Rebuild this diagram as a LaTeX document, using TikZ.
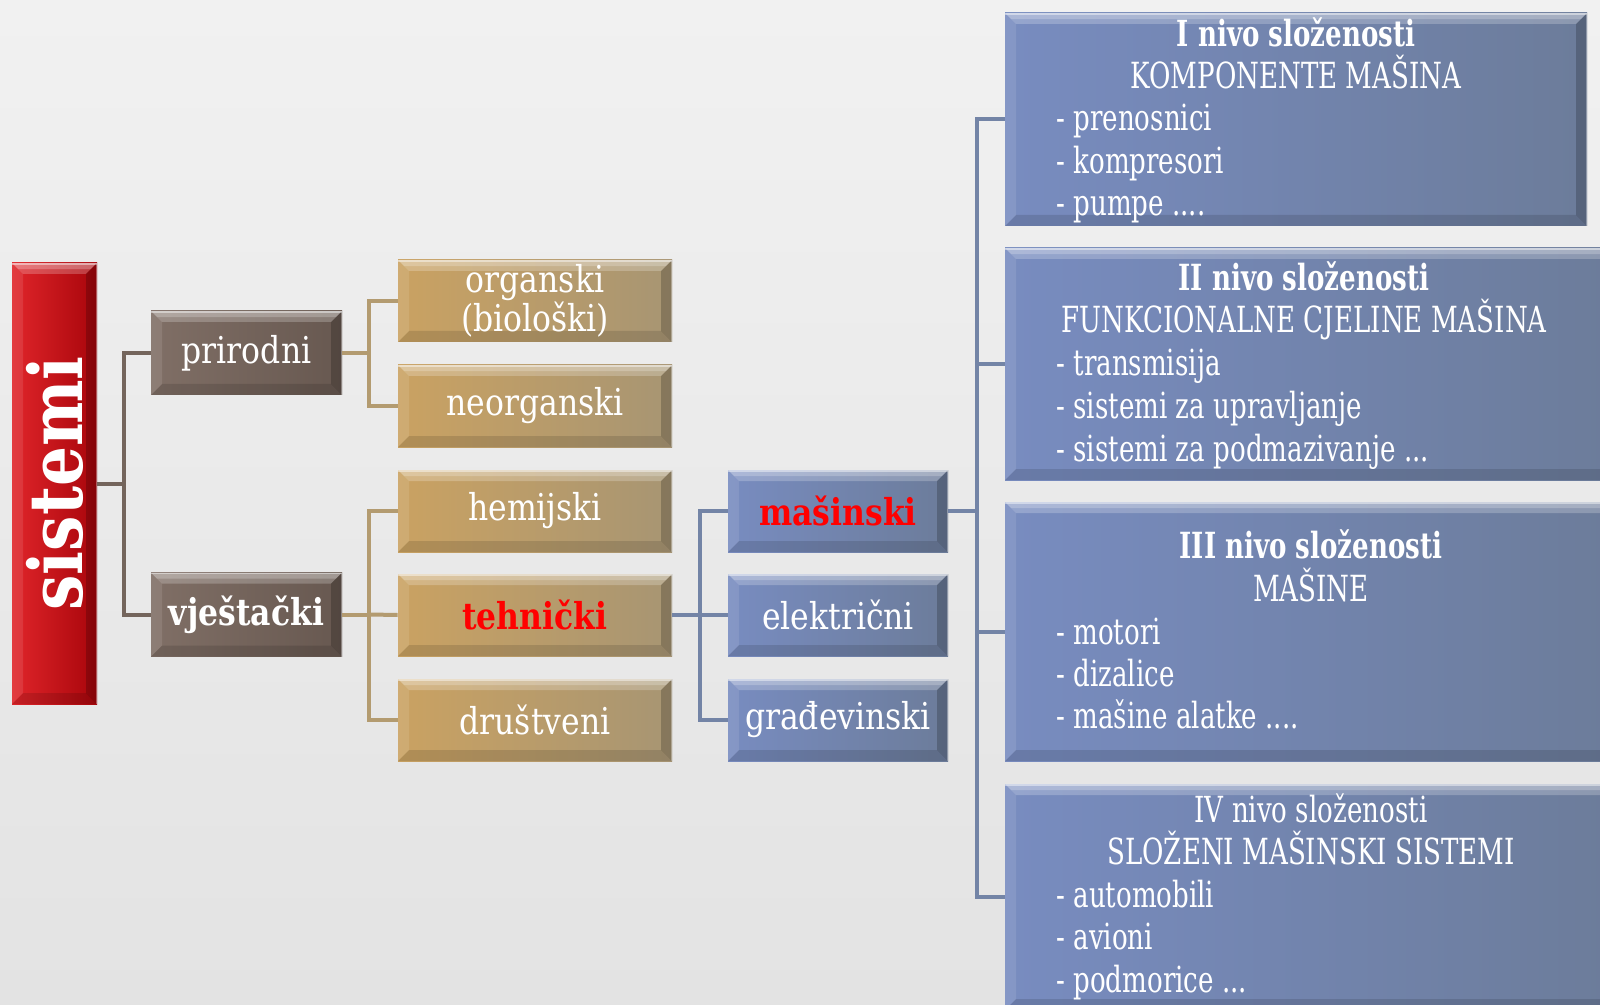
\documentclass[tikz,border=0pt]{standalone}
\usepackage{fontspec}
\setmainfont{DejaVu Serif}[FakeStretch=0.85]
\newfontfamily\narrowserif{DejaVu Serif}[FakeStretch=0.725]
\usetikzlibrary{calc}

\definecolor{bgtop}{HTML}{F1F1F1}
\definecolor{bgbot}{HTML}{E3E3E3}
\definecolor{redL}{HTML}{E0252A}
\definecolor{redR}{HTML}{A8050B}
\definecolor{brownL}{HTML}{806F66}
\definecolor{brownR}{HTML}{675850}
\definecolor{tanL}{HTML}{CAA262}
\definecolor{tanR}{HTML}{A79573}
\definecolor{blueL}{HTML}{788CC0}
\definecolor{blueR}{HTML}{6C7C9A}
\definecolor{brownline}{HTML}{74655C}
\definecolor{tanline}{HTML}{B39B70}
\definecolor{blueline}{HTML}{7384A6}
\definecolor{hot}{HTML}{FF0000}

\newcommand{\bvw}{5.5pt}

\tikzset{
  bevel/.style={path picture={
    \path (path picture bounding box.north west) coordinate (pNW)
          (path picture bounding box.south east) coordinate (pSE);
    % upper face: light
    \fill[white,opacity=0.22] (pNW) -- (pNW -| pSE) -- ($(pNW -| pSE)+(-\bvw,-\bvw)$)
         -- ($(pNW)+(\bvw,-\bvw)$) -- cycle;
    \fill[white,opacity=0.22] (pNW) -- (pNW -| pSE) -- ($(pNW -| pSE)+(-0.55*\bvw,-0.55*\bvw)$)
         -- ($(pNW)+(0.55*\bvw,-0.55*\bvw)$) -- cycle;
    \draw[white,opacity=0.45,line width=0.8pt] ($(pNW)+(0,-0.4pt)$) -- ($(pNW -| pSE)+(0,-0.4pt)$);
    % left face: slightly light
    \fill[white,opacity=0.10] (pNW) -- ($(pNW)+(\bvw,-\bvw)$) -- ($(pNW |- pSE)+(\bvw,\bvw)$)
         -- (pNW |- pSE) -- cycle;
    % right face: dark
    \fill[black,opacity=0.20] (pNW -| pSE) -- (pSE) -- ($(pSE)+(-\bvw,\bvw)$)
         -- ($(pNW -| pSE)+(-\bvw,-\bvw)$) -- cycle;
    \draw[white,opacity=0.35,line width=0.6pt] ($(pNW -| pSE)+(-0.3pt,0)$) -- ($(pSE)+(-0.3pt,0)$);
    % lower face: dark
    \fill[black,opacity=0.12] (pNW |- pSE) -- (pSE) -- ($(pSE)+(-\bvw,\bvw)$)
         -- ($(pNW |- pSE)+(\bvw,\bvw)$) -- cycle;
  }},
  boxbase/.style={bevel, inner sep=0pt, text=white, align=center,
    font=\fontsize{18.5}{19.5}\selectfont},
  redbar/.style={boxbase, left color=redL, right color=redR},
  brownbox/.style={boxbase, left color=brownL, right color=brownR,
    minimum width=95.5pt, minimum height=42pt},
  tanbox/.style={boxbase, left color=tanL, right color=tanR,
    minimum width=137pt, minimum height=41pt},
  bluebox/.style={boxbase, left color=blueL, right color=blueR,
    minimum width=110pt, minimum height=41pt},
  levelbox/.style={bevel, inner sep=0pt, left color=blueL, right color=blueR},
  headline/.style={text=white, inner sep=0pt, anchor=mid,
    font=\narrowserif\fontsize{18}{20}\selectfont},
  itemline/.style={text=white, inner sep=0pt, anchor=mid west,
    font=\narrowserif\fontsize{18}{20}\selectfont},
  link/.style={line width=2pt},
  hl/.style={text=hot, font=\bfseries\fontsize{18.5}{19.5}\selectfont},
}

\begin{document}
\begin{tikzpicture}[x=0.5pt,y=-0.5pt]
  \useasboundingbox (0,0) rectangle (1600,1005);
  \clip (0,0) rectangle (1600,1005);
  \shade[top color=bgtop, bottom color=bgbot] (0,0) rectangle (1600,1005);

  % root
  \node[redbar, minimum width=42.5pt, minimum height=220.5pt] (sis) at (54.5,483.5)
    {\rotatebox{90}{\bfseries\fontsize{37}{40}\selectfont sistemi}};

  % first level
  \node[brownbox] (pri) at (246.5,353) {prirodni};
  \node[brownbox, font=\bfseries\fontsize{18.5}{19.5}\selectfont] (vje) at (246.5,614.5) {vještački};

  % second level
  \node[tanbox] (org) at (535,301) {organski\\(biološki)};
  \node[tanbox] (neo) at (535,406) {neorganski};
  \node[tanbox] (hem) at (535,511) {hemijski};
  \node[tanbox, hl] (teh) at (535,615) {tehnički};
  \node[tanbox] (dru) at (535,720) {društveni};

  % third level
  \node[bluebox, hl] (mas) at (838,511) {mašinski};
  \node[bluebox] (ele) at (838,615) {električni};
  \node[bluebox] (gra) at (838,720) {građevinski};

  % complexity levels
  \node[levelbox, minimum width=291pt, minimum height=106.5pt] (lv1) at (1296,119.5) {};
  \node[levelbox, minimum width=305pt, minimum height=116pt] (lv2) at (1310,364) {};
  \node[levelbox, minimum width=305pt, minimum height=129.5pt] (lv3) at (1310,631.5) {};
  \node[levelbox, minimum width=305pt, minimum height=113pt] (lv4) at (1310,897) {};

  % connectors
  \draw[link, brownline] (sis.east) -- ++(27,0) coordinate (j1) |- (pri.west);
  \draw[link, brownline] (j1) |- (vje.west);
  \draw[link, tanline] (pri.east) -- ++(27,0) coordinate (j2) |- (org.west);
  \draw[link, tanline] (j2) |- (neo.west);
  \draw[link, tanline] (vje.east) -- ++(27,0) coordinate (j3) |- (hem.west);
  \draw[link, tanline] (j3) |- (dru.west);
  \draw[link, tanline] (j3) -- (teh.west);
  \draw[link, blueline] (teh.east) -- ++(28,0) coordinate (j4) |- (mas.west);
  \draw[link, blueline] (j4) |- (gra.west);
  \draw[link, blueline] (j4) -- (ele.west);
  \draw[link, blueline] (mas.east) -- ++(29,0) coordinate (j5) |- (lv1.west);
  \draw[link, blueline] (j5) |- (lv2.west);
  \draw[link, blueline] (j5) |- (lv3.west);
  \draw[link, blueline] (j5) |- (lv4.west);

  % level I
  \node[headline] (t11) at (1296,41) {\bfseries I nivo složenosti};
  \node[headline] (t12) at (1296,83) {KOMPONENTE MAŠINA};
  \node[itemline] (t13) at (1056,125) {- prenosnici};
  \node[itemline] (t14) at (1056,168) {- kompresori};
  \node[itemline] (t15) at (1056,210) {- pumpe ....};

  % level II
  \node[headline] (t21) at (1304,285) {\bfseries II nivo složenosti};
  \node[headline] (t22) at (1304,327) {FUNKCIONALNE CJELINE MAŠINA};
  \node[itemline] (t23) at (1056,370) {- transmisija};
  \node[itemline] (t24) at (1056,413) {- sistemi za upravljanje};
  \node[itemline] (t25) at (1056,456) {- sistemi za podmazivanje ...};

  % level III
  \node[headline] (t31) at (1311,553) {\bfseries III nivo složenosti};
  \node[headline] (t32) at (1311,596) {MAŠINE};
  \node[itemline] (t33) at (1056,639) {- motori};
  \node[itemline] (t34) at (1056,681) {- dizalice};
  \node[itemline] (t35) at (1056,723) {- mašine alatke ....};

  % level IV
  \node[headline] (t41) at (1311,817) {IV nivo složenosti};
  \node[headline] (t42) at (1311,859) {SLOŽENI MAŠINSKI SISTEMI};
  \node[itemline] (t43) at (1056,902) {- automobili};
  \node[itemline] (t44) at (1056,944) {- avioni};
  \node[itemline] (t45) at (1056,987) {- podmorice ...};
\end{tikzpicture}
\end{document}
